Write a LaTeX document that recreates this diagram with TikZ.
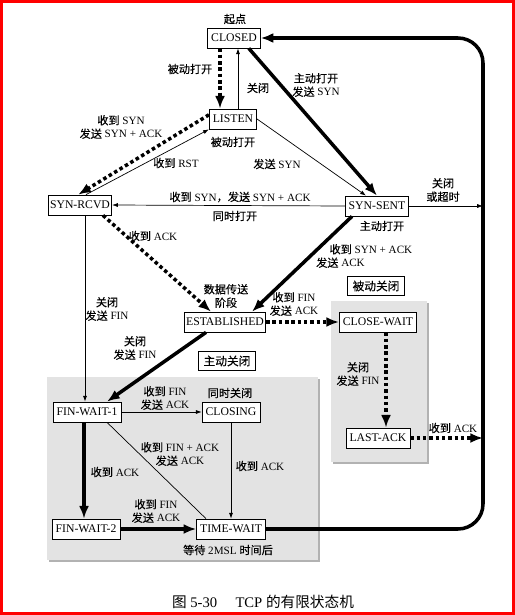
\documentclass[tikz,border=0pt]{standalone}
\usepackage{fontspec}
\setmainfont{Liberation Serif}
\newfontfamily\cjk{Noto Sans CJK SC}[FakeBold=0.3]
\newfontfamily\cjkcap{Noto Sans CJK SC}
\usepackage{tikz}
\usetikzlibrary{arrows.meta, positioning}
\newcommand\zh[1]{{\cjk #1}}

\begin{document}
\begin{tikzpicture}[x=0.03cm, y=-0.03cm,
    st/.style={draw, fill=white, line width=0.6pt, minimum height=0.6cm,
        inner xsep=3pt, inner ysep=1pt, font=\fontsize{10}{12}\selectfont},
    tag/.style={st, inner xsep=4.5pt, minimum height=0.57cm},
    note/.style={align=center, inner sep=0pt, font=\fontsize{9.5}{11.5}\selectfont},
    plain/.style={line width=0.6pt, -{Latex[length=5pt, width=3.5pt]}},
    heavy/.style={line width=3pt, -{Latex[length=0.38cm, width=0.3cm]}},
    dotty/.style={heavy, dash pattern=on 3pt off 2.4pt}]
    \useasboundingbox (0,0) rectangle (515,615);
    \draw[red, line width=0.1cm] (1.6,1.6) rectangle (513.4,613.4);

    % shaded areas
    \fill[gray!60] (49,379) rectangle (320,562);
    \fill[gray!22] (47,377) rectangle (318,560);
    \fill[gray!60] (333,303) rectangle (429,464);
    \fill[gray!22] (331,301) rectangle (427,462);

    % states
    \node[st] (closed) at (234,38) {CLOSED};
    \node[note] (start) at (235,19) {\zh{起点}};
    \node[st] (listen) at (233,119) {LISTEN};
    \node[st, inner xsep=1.5pt] (synrcvd) at (80,205) {SYN-RCVD};
    \node[st] (synsent) at (377,206) {SYN-SENT};
    \node[st, inner xsep=1.5pt] (estab) at (225,322) {ESTABLISHED};
    \node[st] (closewait) at (378,322) {CLOSE-WAIT};
    \node[st] (lastack) at (378,438) {LAST-ACK};
    \node[st] (finw1) at (87,412) {FIN-WAIT-1};
    \node[st] (closing) at (231,412) {CLOSING};
    \node[st] (finw2) at (86,529) {FIN-WAIT-2};
    \node[st] (timew) at (231,529) {TIME-WAIT};
    \node[tag] (passive) at (376,286) {\zh{被动关闭}};
    \node[tag] (active) at (227,361) {\zh{主动关闭}};

    \coordinate (rt) at (483,38);
    \coordinate (rb) at (483,529);

    % transitions
    \draw[dotty] (220,0 |- closed.south) -- (220,0 |- listen.north);
    \draw[plain] (238,0 |- listen.north) -- (238,0 |- closed.south);
    \draw[heavy] (closed.-35) -- (synsent.north);
    \draw[dotty] (listen.170) -- (synrcvd.100);
    \draw[plain] (synrcvd.60) -- (listen.south west);
    \draw[plain] (listen.east) -- (366,0 |- synsent.north);
    \draw[plain] (synsent.west) -- (synrcvd.east);
    \draw[plain] (synsent.east) -- (synsent.east -| rt);
    \draw[dotty] (103,0 |- synrcvd.south) -- (211,0 |- estab.north);
    \draw[heavy] (352,0 |- synsent.south) -- (252,0 |- estab.north);
    \draw[plain] (85,0 |- synrcvd.south) -- (85,0 |- finw1.north);
    \draw[heavy] (206,0 |- estab.south) -- (107,0 |- finw1.north);
    \draw[dotty] (estab.east) -- (closewait.west);
    \draw[dotty] (386,0 |- closewait.south) -- (386,0 |- lastack.north);
    \draw[dotty] (lastack.east) -- (lastack.east -| rt);
    \draw[plain] (finw1.east) -- (closing.west);
    \draw[heavy] (84,0 |- finw1.south) -- (84,0 |- finw2.north);
    \draw[line width=0.6pt] (107,0 |- finw1.south) -- (206,0 |- timew.north);
    \draw[plain] (closing.south) -- (closing.south |- timew.north);
    \draw[heavy] (finw2.east) -- (timew.west);
    \draw[heavy, rounded corners=0.75cm] (timew.east) -- (rb) -- (rt) -- (closed.east);

    % labels
    \node[note] (pasopen) at (190,69) {\zh{被动打开}};
    \node[note] (close1) at (258,88) {\zh{关闭}};
    \node[note] (actopen) at (316,85) {\zh{主动打开}\\\zh{发送} SYN};
    \node[note] (rcvsyn) at (121,127) {\zh{收到} SYN\\\zh{发送} SYN + ACK};
    \node[note] (pasopen2) at (233,142) {\zh{被动打开}};
    \node[note] (rcvrst) at (176,163) {\zh{收到} RST};
    \node[note] (sndsyn) at (277,164) {\zh{发送} SYN};
    \node[note] (simsyn) at (240,197) {\zh{收到} SYN\zh{，发送} SYN + ACK};
    \node[note] (simopen) at (235,216) {\zh{同时打开}};
    \node[note] (timeout) at (443,190) {\zh{关闭}\\\zh{或超时}};
    \node[note] (actopen2) at (382,226) {\zh{主动打开}};
    \node[note, align=left, anchor=west] (synack) at (316,256)
        {\hspace{1.2em}\zh{收到} SYN + ACK\\\zh{发送} ACK};
    \node[note] (rcvack1) at (153,236) {\zh{收到} ACK};
    \node[note] (data) at (226,296) {\zh{数据传送}\\\zh{阶段}};
    \node[note] (rcvfin1) at (294,304) {\zh{收到} FIN\\\zh{发送} ACK};
    \node[note] (close2) at (107,309) {\zh{关闭}\\\zh{发送} FIN};
    \node[note] (close3) at (135,348) {\zh{关闭}\\\zh{发送} FIN};
    \node[note] (close4) at (358,374) {\zh{关闭}\\\zh{发送} FIN};
    \node[note] (rcvack2) at (453,428) {\zh{收到} ACK};
    \node[note] (rcvfin2) at (165,398) {\zh{收到} FIN\\\zh{发送} ACK};
    \node[note] (simclose) at (230,393) {\zh{同时关闭}};
    \node[note] (rcvack3) at (115,472) {\zh{收到} ACK};
    \node[note] (finack) at (180,454) {\zh{收到} FIN + ACK\\\zh{发送} ACK};
    \node[note] (rcvack4) at (260,466) {\zh{收到} ACK};
    \node[note] (rcvfin3) at (156,511) {\zh{收到} FIN\\\zh{发送} ACK};
    \node[note] (msl) at (228,550) {\zh{等待} 2MSL \zh{时间后}};
    \node[note, font=\fontsize{12.5}{14}\selectfont] (caption) at (263,602)
        {{\cjkcap 图} 5-30\quad\ TCP {\cjkcap 的有限状态机}};
\end{tikzpicture}
\end{document}
